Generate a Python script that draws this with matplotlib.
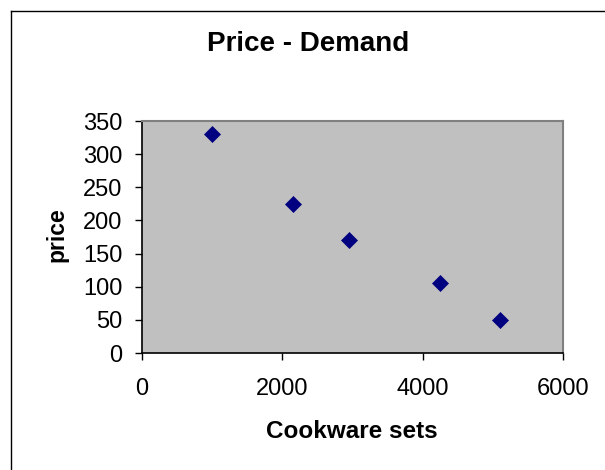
import matplotlib
matplotlib.use("Agg")
import matplotlib.pyplot as plt
from matplotlib.lines import Line2D

# Price - Demand data
cookware_sets = [1000, 2150, 2950, 4250, 5100]
price = [330, 225, 170, 105, 50]

x_ticks = [0, 2000, 4000, 6000]
y_ticks = [0, 50, 100, 150, 200, 250, 300, 350]

plt.rcParams["font.family"] = ["Liberation Sans", "DejaVu Sans"]

W, H = 605, 470
fig = plt.figure(figsize=(W / 100, H / 100), dpi=100)

# outer chart frame: only the left and top edges fall inside the image
fx, fy = 11.5 / W, 1 - 10.5 / H
fig.add_artist(Line2D([fx, fx], [0, fy], transform=fig.transFigure, color="black", linewidth=1.0))
fig.add_artist(Line2D([fx, 1], [fy, fy], transform=fig.transFigure, color="black", linewidth=1.0))

ax = fig.add_axes([142 / W, 1 - 353 / H, (563 - 142) / W, (353 - 121) / H])
ax.set_facecolor("#C0C0C0")

ax.plot(cookware_sets, price, linestyle="none", marker="D", markersize=8,
        color="#000080", markeredgewidth=0.5)

ax.set_xlim(0, 6000)
ax.set_ylim(0, 350)
ax.set_xticks(x_ticks)
ax.set_yticks(y_ticks)
ax.tick_params(direction="out", length=5, width=1, labelsize=17, color="black")
ax.tick_params(axis="x", pad=13)
ax.tick_params(axis="y", pad=9)

for side in ["top", "right"]:
    ax.spines[side].set_color("#808080")
    ax.spines[side].set_linewidth(1.5)
for side in ["left", "bottom"]:
    ax.spines[side].set_color("black")
    ax.spines[side].set_linewidth(1.2)

fig.text(308 / W, 1 - 44 / H, "Price - Demand", ha="center", va="center",
         fontsize=20, fontweight="bold")
fig.text(352 / W, 1 - 431 / H, "Cookware sets", ha="center", va="center",
         fontsize=17.5, fontweight="bold")
fig.text(57 / W, 1 - 235 / H, "price", ha="center", va="center",
         rotation=90, fontsize=16.5, fontweight="bold")

fig.savefig("out.png", dpi=100)
